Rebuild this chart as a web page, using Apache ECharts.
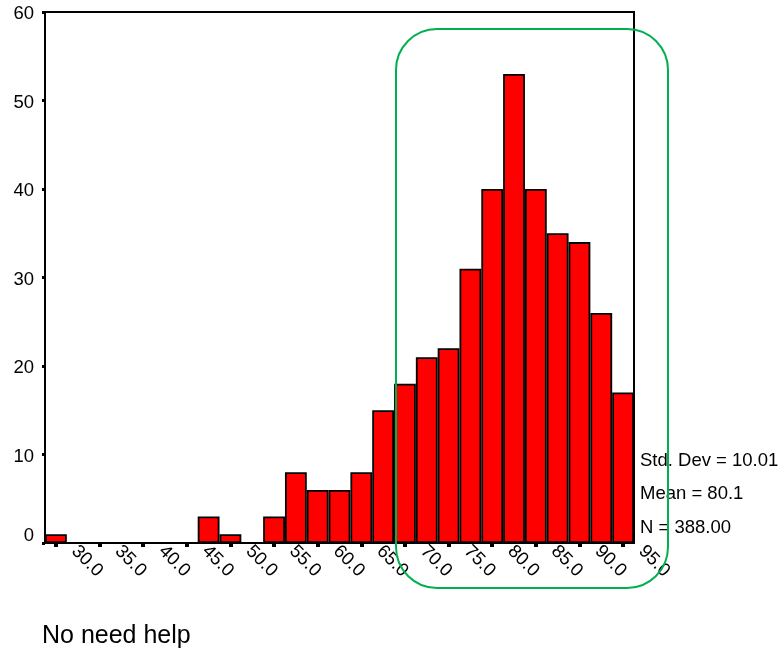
<!DOCTYPE html>
<html>
<head>
<meta charset="utf-8">
<script src="https://cdn.jsdelivr.net/npm/echarts@6/dist/echarts.min.js"></script>
<style>html,body{margin:0;padding:0;background:#fff}#c{width:782px;height:650px}</style>
</head>
<body>
<div id="c"></div>
<script>
// Bin midpoints (bin width 2.5)
const categories = ['30.0','32.5','35.0','37.5','40.0','42.5','45.0','47.5','50.0','52.5','55.0','57.5','60.0','62.5','65.0','67.5','70.0','72.5','75.0','77.5','80.0','82.5','85.0','87.5','90.0','92.5','95.0'];
// Frequencies
const counts = [1,0,0,0,0,0,0,3,1,0,3,8,6,6,8,15,18,21,22,31,40,53,40,35,34,26,17];
const yTicks = [0,10,20,30,40,50,60];
const statsLines = ['Std. Dev = 10.01','Mean = 80.1','N = 388.00'];
const caption = 'No need help';

const FONT = 'Arial, "Liberation Sans", sans-serif';
const chart = echarts.init(document.getElementById('c'));
chart.setOption({
  animation: false,
  backgroundColor: '#fff',
  grid: { left: 45, top: 12, width: 589, height: 531, show: true, borderColor: '#000', borderWidth: 2, backgroundColor: 'transparent' },
  xAxis: {
    type: 'category',
    data: categories,
    boundaryGap: true,
    axisLine: { show: true, lineStyle: { color: '#000', width: 2 } },
    axisTick: { show: true, alignWithLabel: true, interval: 1, length: 4, lineStyle: { color: '#000', width: 4 } },
    axisLabel: { interval: 1, rotate: -45, fontSize: 18.5, fontFamily: FONT, color: '#000', margin: -13, padding: [0, 0, 0, 26] },
    splitLine: { show: false }
  },
  yAxis: {
    type: 'value',
    min: yTicks[0], max: yTicks[yTicks.length - 1], interval: 10,
    axisLine: { show: true, lineStyle: { color: '#000', width: 2 } },
    axisTick: { show: true, length: 3, lineStyle: { color: '#000', width: 3 } },
    axisLabel: {
      fontSize: 18.5, fontFamily: FONT, color: '#000', margin: 11,
      formatter: function (v) { return v === 0 ? '{z|' + v + '}' : '{n|' + v + '}'; },
      rich: {
        n: { fontSize: 18.5, fontFamily: FONT, color: '#000', padding: [4, 0, 0, 0] },
        z: { fontSize: 18.5, fontFamily: FONT, color: '#000', padding: [0, 0, 14, 0] }
      }
    },
    splitLine: { show: false }
  },
  series: [{
    type: 'bar',
    data: counts,
    barCategoryGap: '0%',
    itemStyle: { color: '#ff0000', borderColor: '#000', borderWidth: 1.8 }
  }],
  graphic: [
    { type: 'text', left: 640, top: 451, z: 10, style: { text: statsLines[0], font: '18.5px ' + FONT, fill: '#000' } },
    { type: 'text', left: 640, top: 484, z: 10, style: { text: statsLines[1], font: '18.5px ' + FONT, fill: '#000' } },
    { type: 'text', left: 640, top: 518, z: 10, style: { text: statsLines[2], font: '18.5px ' + FONT, fill: '#000' } },
    { type: 'text', left: 42, top: 624, z: 10, style: { text: caption, font: '25px ' + FONT, fill: '#000' } },
    { type: 'rect', z: 20, shape: { x: 396, y: 29, width: 272, height: 559, r: 41 }, style: { fill: 'none', stroke: '#00b050', lineWidth: 2 } }
  ]
});
</script>
</body>
</html>
